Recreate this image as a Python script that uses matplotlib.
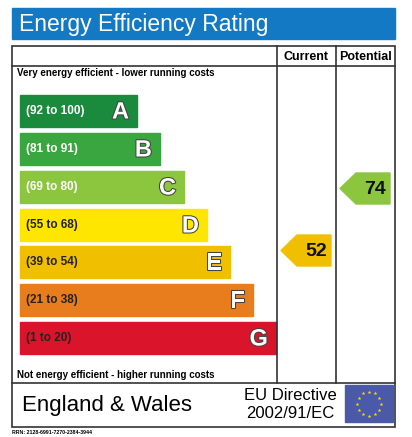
import matplotlib
matplotlib.use("Agg")
import matplotlib.pyplot as plt
from matplotlib.patches import Rectangle, Polygon
import matplotlib.patheffects as pe
import numpy as np

plt.rcParams['font.family'] = ['Liberation Sans', 'DejaVu Sans']

bands = ["A", "B", "C", "D", "E", "F", "G"]
ranges = ["(92 to 100)", "(81 to 91)", "(69 to 80)", "(55 to 68)", "(39 to 54)", "(21 to 38)", "(1 to 20)"]
lows = [92, 81, 69, 55, 39, 21, 1]
colors = ["#1a8a3c", "#3aa640", "#8cc63f", "#ffe600", "#f0c000", "#e87d1e", "#d9142b"]
current = 52
potential = 74

fig = plt.figure(figsize=(4.12, 4.37), dpi=100)
ax = fig.add_axes([0, 0, 1, 1])
ax.set_xlim(0, 412); ax.set_ylim(437, 0); ax.axis('off')

ax.add_patch(Rectangle((12, 8), 383, 31, color="#1479c4"))
ax.text(19, 24, "Energy Efficiency Rating", color="white", fontsize=16.5, va="center")

lw = 1.2
ax.add_patch(Rectangle((12, 46), 383, 381, fill=False, ec="#333", lw=lw))
ax.plot([12, 395], [66, 66], color="#333", lw=lw)
ax.plot([12, 395], [383, 383], color="#333", lw=lw)
ax.plot([277, 277], [46, 383], color="#333", lw=lw)
ax.plot([336, 336], [46, 383], color="#333", lw=lw)
ax.text(306.5, 57, "Current", fontsize=9, fontweight="bold", ha="center", va="center")
ax.text(365.5, 57, "Potential", fontsize=9, fontweight="bold", ha="center", va="center")
ax.text(17, 73, "Very energy efficient - lower running costs", fontsize=7, fontweight="bold", va="center")
ax.text(17, 375, "Not energy efficient - higher running costs", fontsize=7, fontweight="bold", va="center")

tops = [95, 133, 171, 209, 246, 284, 322]
rights = [137, 160, 184, 207, 230, 253, 276]
h = 32
for i, b in enumerate(bands):
    ax.add_patch(Rectangle((20, tops[i]), rights[i] - 20, h, color=colors[i]))
    tc = "white" if i < 3 else "#222"
    ax.text(26, tops[i] + h / 2, ranges[i], fontsize=8.5, fontweight="bold", color=tc, va="center")
    ax.text(rights[i] - 8, tops[i] + h / 2 + 1, b, fontsize=17, fontweight="bold", color="white",
            ha="right", va="center",
            path_effects=[pe.withStroke(linewidth=1.5, foreground="#444")])

def band_of(v):
    for i, lo in enumerate(lows):
        if v >= lo:
            return i
    return 6

def arrow(v, x0, x1, top):
    i = band_of(v)
    mid = top + 15.5
    pts = [(x0, mid), (x0 + 16, top), (x1, top), (x1, top + 31), (x0 + 16, top + 31)]
    ax.add_patch(Polygon(pts, color=colors[i]))
    ax.text((x0 + 16 + x1) / 2 + 2, mid + 1, str(v), fontsize=14, fontweight="bold", color="#111",
            ha="center", va="center")

arrow(current, 281, 331, tops[band_of(current)] - 11)
arrow(potential, 340, 390, tops[band_of(potential)] + 2)

ax.text(22, 406, "England & Wales", fontsize=16, va="center")
ax.text(290, 395, "EU Directive", fontsize=12, ha="center", va="center")
ax.text(290, 414, "2002/91/EC", fontsize=12, ha="center", va="center")
ax.add_patch(Rectangle((345, 385), 48, 37, color="#4a5aa8"))
ang = np.linspace(0, 2 * np.pi, 12, endpoint=False)
ax.scatter(369 + 12 * np.cos(ang), 403.5 + 12 * np.sin(ang), marker="*", s=8, color="#ffdd00", zorder=5, linewidths=0)
ax.text(12, 433, "RRN: 2128-6991-7270-2384-3944", fontsize=3.8, fontweight="bold", va="center")

fig.savefig("out.png", dpi=100)
